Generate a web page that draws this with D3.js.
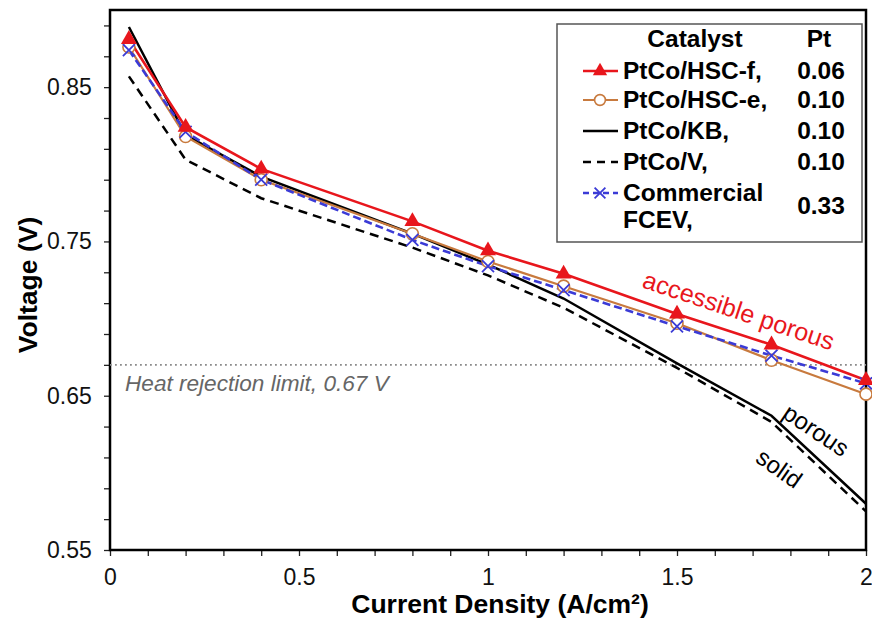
<!DOCTYPE html>
<html>
<head>
<meta charset="utf-8">
<script src="https://cdn.jsdelivr.net/npm/d3@7"></script>
<style>
  body { margin: 0; background: #fff; }
  svg { display: block; font-family: "Liberation Sans", Arial, sans-serif; }
</style>
</head>
<body>
<svg class="chart"></svg>
<script>
// values
var currentDensity = [0.05, 0.2, 0.4, 0.8, 1.0, 1.2, 1.5, 1.75, 2.0];
var hscF = [0.881, 0.824, 0.797, 0.763, 0.744, 0.729, 0.703, 0.683, 0.660];
var hscE = [0.876, 0.818, 0.790, 0.755, 0.737, 0.721, 0.697, 0.673, 0.651];
var kb = [0.889, 0.819, 0.792, 0.755, 0.735, 0.713, 0.671, 0.637, 0.580];
var vulcan = [0.857, 0.803, 0.778, 0.746, 0.728, 0.707, 0.668, 0.633, 0.575];
var commercial = [0.874, 0.821, 0.790, 0.751, 0.734, 0.7185, 0.695, 0.676, 0.658];

var seriesNames = ["PtCo/HSC-f,", "PtCo/HSC-e,", "PtCo/KB,", "PtCo/V,", "Commercial"];
var ptLoading = ["0.06", "0.10", "0.10", "0.10", "0.33"];
var xTickLabels = [0, 0.5, 1, 1.5, 2];
var yTickLabels = [0.55, 0.65, 0.75, 0.85];
var heatLimit = 0.67;

var W = 872, H = 625;
var svg = d3.select(".chart").attr("width", W).attr("height", H);

var x = d3.scaleLinear().domain([0, 2]).range([110, 866]);
var y = d3.scaleLinear().domain([0.55, 0.9]).range([550, 10]);

// axes
var xAxis = d3.axisBottom(x)
  .tickValues(d3.range(0, 21).map(function(i) { return i / 10; }))
  .tickSize(6)
  .tickFormat(function(d) {
    var m = xTickLabels.find(function(v) { return Math.abs(v - d) < 1e-6; });
    return m === undefined ? "" : d3.format("")(m);
  });
var yAxis = d3.axisLeft(y)
  .tickValues(d3.range(0, 18).map(function(i) { return 0.55 + i * 0.02; }))
  .tickSize(6)
  .tickFormat(function(d) {
    var m = yTickLabels.find(function(v) { return Math.abs(v - d) < 1e-6; });
    return m === undefined ? "" : m.toFixed(2);
  });

var gx = svg.append("g").attr("transform", "translate(0,550)").call(xAxis);
var gy = svg.append("g").attr("transform", "translate(110,0)").call(yAxis);
[gx, gy].forEach(function(g) {
  g.select(".domain").remove();
  g.selectAll(".tick line").attr("stroke", "#222").attr("stroke-width", 1.3);
  g.selectAll(".tick text").attr("font-size", 23).attr("fill", "#111")
    .attr("font-family", "Liberation Sans, Arial, sans-serif");
});
gx.selectAll(".tick text").attr("dy", "1.12em");
gy.selectAll(".tick text").attr("dx", "-0.4em");

// frame
svg.append("rect").attr("x", x(0)).attr("y", y(0.9))
  .attr("width", x(2) - x(0)).attr("height", y(0.55) - y(0.9))
  .attr("fill", "none").attr("stroke", "#000").attr("stroke-width", 2.5);

// heat rejection line
svg.append("line")
  .attr("x1", x(0)).attr("x2", x(2)).attr("y1", y(heatLimit)).attr("y2", y(heatLimit))
  .attr("stroke", "#8a8a8a").attr("stroke-width", 1.8).attr("stroke-dasharray", "1.8,3.2");
svg.append("text").attr("x", 125).attr("y", y(heatLimit) + 26)
  .attr("font-size", 22.6).attr("font-style", "italic").attr("fill", "#666")
  .text("Heat rejection limit, 0.67 V");

function pts(vals) {
  return vals.map(function(v, i) { return [currentDensity[i], v]; });
}
var line = d3.line().x(function(d) { return x(d[0]); }).y(function(d) { return y(d[1]); });

var series = [
  { vals: vulcan, color: "#000", width: 2.5, dash: "9,6", marker: null },
  { vals: kb, color: "#000", width: 2.5, dash: null, marker: null },
  { vals: hscE, color: "#c87a3e", width: 2.2, dash: null, marker: "circle" },
  { vals: commercial, color: "#3b3bd6", width: 2.6, dash: "8,4", marker: "x" },
  { vals: hscF, color: "#e8161c", width: 2.6, dash: null, marker: "triangle" }
];

function drawMarker(g, type, color, cx, cy, s) {
  if (type === "circle") {
    g.append("circle").attr("cx", cx).attr("cy", cy).attr("r", 6 * s)
      .attr("fill", "#fff").attr("stroke", color).attr("stroke-width", 1.6);
  } else if (type === "triangle") {
    g.append("path").attr("transform", "translate(" + cx + "," + cy + ")")
      .attr("d", d3.symbol().type(d3.symbolTriangle).size(110 * s * s)())
      .attr("fill", color);
  } else if (type === "x") {
    var r = 6 * s;
    g.append("path")
      .attr("d", "M" + (cx - r) + "," + (cy - r) + "L" + (cx + r) + "," + (cy + r) +
                 "M" + (cx - r) + "," + (cy + r) + "L" + (cx + r) + "," + (cy - r))
      .attr("stroke", color).attr("stroke-width", 1.8).attr("fill", "none");
  }
}

var plot = svg.append("g");
series.forEach(function(s) {
  plot.append("path").datum(pts(s.vals)).attr("d", line)
    .attr("fill", "none").attr("stroke", s.color).attr("stroke-width", s.width)
    .attr("stroke-dasharray", s.dash);
});
series.forEach(function(s) {
  if (!s.marker) return;
  pts(s.vals).forEach(function(p) {
    drawMarker(plot, s.marker, s.color, x(p[0]), y(p[1]), 1);
  });
});

// curve labels
svg.append("text").attr("transform", "translate(641,287) rotate(18.5)")
  .attr("font-size", 25).attr("fill", "#e8161c").text("accessible porous");
svg.append("text").attr("transform", "translate(815,432) rotate(34)")
  .attr("text-anchor", "middle").attr("dominant-baseline", "middle")
  .attr("font-size", 24).attr("fill", "#000").text("porous");
svg.append("text").attr("transform", "translate(778,470) rotate(35)")
  .attr("text-anchor", "middle").attr("dominant-baseline", "middle")
  .attr("font-size", 24).attr("fill", "#000").text("solid");

// axis titles
svg.append("text").attr("x", 500).attr("y", 613).attr("text-anchor", "middle")
  .attr("font-size", 26.5).attr("font-weight", "bold").text("Current Density (A/cm²)");
svg.append("text").attr("transform", "translate(37,285) rotate(-90)")
  .attr("text-anchor", "middle")
  .attr("font-size", 26.5).attr("font-weight", "bold").text("Voltage (V)");

// legend
var lg = svg.append("g");
lg.append("rect").attr("x", 557).attr("y", 24).attr("width", 305).attr("height", 218)
  .attr("fill", "#fff").attr("stroke", "#555").attr("stroke-width", 1.5);
lg.append("text").attr("x", 695).attr("y", 47).attr("text-anchor", "middle")
  .attr("font-size", 24.5).attr("font-weight", "bold").text("Catalyst");
lg.append("text").attr("x", 819).attr("y", 47).attr("text-anchor", "middle")
  .attr("font-size", 24.5).attr("font-weight", "bold").text("Pt");

var legendOrder = [4, 2, 1, 0, 3];
var rowY = [71, 100, 131, 162, 193];
legendOrder.forEach(function(si, i) {
  var s = series[si], ry = rowY[i];
  lg.append("line").attr("x1", 583).attr("x2", 618).attr("y1", ry).attr("y2", ry)
    .attr("stroke", s.color).attr("stroke-width", s.width)
    .attr("stroke-dasharray", s.dash ? (si === 0 ? "8,6" : "6,4") : null);
  if (s.marker) drawMarker(lg, s.marker, s.color, 600, ry, 0.9);
  lg.append("text").attr("x", 623).attr("y", ry + 8)
    .attr("font-size", 24.5).attr("font-weight", "bold").text(seriesNames[i]);
  lg.append("text").attr("x", 821).attr("y", i === 4 ? 214 : ry + 8).attr("text-anchor", "middle")
    .attr("font-size", 24.5).attr("font-weight", "bold").text(ptLoading[i]);
});
lg.append("text").attr("x", 623).attr("y", 228)
  .attr("font-size", 24.5).attr("font-weight", "bold").text("FCEV,");
</script>
</body>
</html>
